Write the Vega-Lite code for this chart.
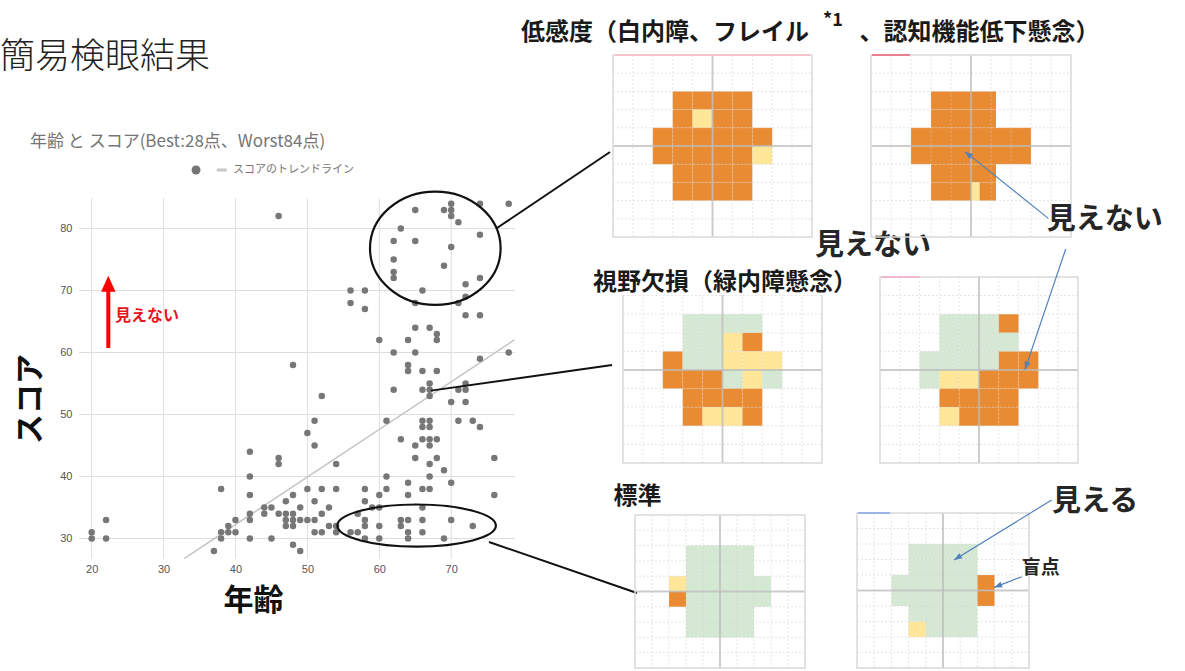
{
"$schema":"https://vega.github.io/schema/vega-lite/v6.json",
"padding":0,
"background":"white",
"config":{"view":{"stroke":null},"font":"Noto Sans CJK JP"},
"datasets":{
"pts":[{"a":20,"s":31},{"a":20,"s":30},{"a":22,"s":33},{"a":22,"s":30},
{"a":37,"s":28},{"a":38,"s":38},{"a":38,"s":31},{"a":38,"s":30},{"a":39,"s":32},{"a":39,"s":31},{"a":40,"s":33},{"a":40,"s":31},
{"a":42,"s":44},{"a":42,"s":40},{"a":42,"s":37},{"a":42,"s":34},{"a":42,"s":33},{"a":42,"s":30},
{"a":44,"s":35},{"a":44,"s":34},{"a":45,"s":35},{"a":45,"s":30},
{"a":46,"s":82},{"a":46,"s":43},{"a":46,"s":42},{"a":46,"s":34},
{"a":47,"s":36},{"a":47,"s":34},{"a":47,"s":33},{"a":47,"s":32},
{"a":48,"s":58},{"a":48,"s":37},{"a":48,"s":34},{"a":48,"s":33},{"a":48,"s":32},{"a":48,"s":29},
{"a":49,"s":35},{"a":49,"s":33},{"a":49,"s":28},
{"a":50,"s":47},{"a":50,"s":38},{"a":50,"s":33},
{"a":51,"s":49},{"a":51,"s":45},{"a":51,"s":36},{"a":51,"s":33},{"a":51,"s":31},
{"a":52,"s":53},{"a":52,"s":38},{"a":52,"s":34},{"a":52,"s":31},
{"a":53,"s":35},{"a":53,"s":32},
{"a":54,"s":42},{"a":54,"s":38},{"a":54,"s":32},{"a":54,"s":31},
{"a":56,"s":70},{"a":56,"s":68},{"a":56,"s":31},
{"a":57,"s":34},{"a":57,"s":31},
{"a":58,"s":70},{"a":58,"s":67},{"a":58,"s":38},{"a":58,"s":36},{"a":58,"s":33},{"a":58,"s":32},{"a":58,"s":30},
{"a":59,"s":35},
{"a":60,"s":62},{"a":60,"s":37},{"a":60,"s":35},{"a":60,"s":32},{"a":60,"s":30},
{"a":61,"s":49},{"a":61,"s":40},{"a":61,"s":38},
{"a":62,"s":78},{"a":62,"s":75},{"a":62,"s":73},{"a":62,"s":72},{"a":62,"s":60},{"a":62,"s":54},
{"a":63,"s":80},{"a":63,"s":46},{"a":63,"s":33},{"a":63,"s":32},
{"a":64,"s":62},{"a":64,"s":58},{"a":64,"s":57},{"a":64,"s":39},{"a":64,"s":37},{"a":64,"s":33},{"a":64,"s":31},{"a":64,"s":30},
{"a":65,"s":83},{"a":65,"s":78},{"a":65,"s":68},{"a":65,"s":64},{"a":65,"s":60},{"a":65,"s":45},{"a":65,"s":43},
{"a":66,"s":70},{"a":66,"s":57},{"a":66,"s":54},{"a":66,"s":49},{"a":66,"s":48},{"a":66,"s":46},{"a":66,"s":38},{"a":66,"s":35},{"a":66,"s":33},{"a":66,"s":31},
{"a":67,"s":64},{"a":67,"s":55},{"a":67,"s":54},{"a":67,"s":53},{"a":67,"s":49},{"a":67,"s":48},{"a":67,"s":46},{"a":67,"s":45},{"a":67,"s":42},{"a":67,"s":40},{"a":67,"s":38},
{"a":68,"s":63},{"a":68,"s":62},{"a":68,"s":57},{"a":68,"s":46},{"a":68,"s":43},
{"a":69,"s":83},{"a":69,"s":74},{"a":69,"s":41},{"a":69,"s":30},
{"a":70,"s":84},{"a":70,"s":83},{"a":70,"s":82},{"a":70,"s":77},{"a":70,"s":52},{"a":70,"s":39},{"a":70,"s":33},
{"a":71,"s":81},{"a":71,"s":68},{"a":71,"s":54},{"a":71,"s":49},
{"a":72,"s":71},{"a":72,"s":69},{"a":72,"s":66},{"a":72,"s":55},{"a":72,"s":54},{"a":72,"s":52},
{"a":73,"s":49},{"a":73,"s":32},
{"a":74,"s":84},{"a":74,"s":79},{"a":74,"s":72},{"a":74,"s":66},{"a":74,"s":59},{"a":74,"s":48},
{"a":76,"s":43},{"a":76,"s":37},
{"a":78,"s":84},{"a":78,"s":60}],
"trend":[{"a":32.86,"s":26.76},{"a":78.79,"s":62.03}],
"gx":[{"g":20},{"g":30},{"g":40},{"g":50},{"g":60},{"g":70}],
"gy":[{"h":30},{"h":40},{"h":50},{"h":60},{"h":70},{"h":80}],
"gv":[{"v":1},{"v":2},{"v":3},{"v":4},{"v":5},{"v":6},{"v":7},{"v":8},{"v":9}],
"cells":[
{"p":1,"c0":3,"c1":4,"r0":2,"r1":3,"s":"o"},{"p":1,"c0":4,"c1":5,"r0":2,"r1":3,"s":"o"},{"p":1,"c0":5,"c1":6,"r0":2,"r1":3,"s":"o"},{"p":1,"c0":6,"c1":7,"r0":2,"r1":3,"s":"o"},
{"p":1,"c0":3,"c1":4,"r0":3,"r1":4,"s":"o"},{"p":1,"c0":4,"c1":5,"r0":3,"r1":4,"s":"y"},{"p":1,"c0":5,"c1":6,"r0":3,"r1":4,"s":"o"},{"p":1,"c0":6,"c1":7,"r0":3,"r1":4,"s":"o"},
{"p":1,"c0":2,"c1":3,"r0":4,"r1":5,"s":"o"},{"p":1,"c0":3,"c1":4,"r0":4,"r1":5,"s":"o"},{"p":1,"c0":4,"c1":5,"r0":4,"r1":5,"s":"o"},{"p":1,"c0":5,"c1":6,"r0":4,"r1":5,"s":"o"},{"p":1,"c0":6,"c1":7,"r0":4,"r1":5,"s":"o"},{"p":1,"c0":7,"c1":8,"r0":4,"r1":5,"s":"o"},
{"p":1,"c0":2,"c1":3,"r0":5,"r1":6,"s":"o"},{"p":1,"c0":3,"c1":4,"r0":5,"r1":6,"s":"o"},{"p":1,"c0":4,"c1":5,"r0":5,"r1":6,"s":"o"},{"p":1,"c0":5,"c1":6,"r0":5,"r1":6,"s":"o"},{"p":1,"c0":6,"c1":7,"r0":5,"r1":6,"s":"o"},{"p":1,"c0":7,"c1":8,"r0":5,"r1":6,"s":"y"},
{"p":1,"c0":3,"c1":4,"r0":6,"r1":7,"s":"o"},{"p":1,"c0":4,"c1":5,"r0":6,"r1":7,"s":"o"},{"p":1,"c0":5,"c1":6,"r0":6,"r1":7,"s":"o"},{"p":1,"c0":6,"c1":7,"r0":6,"r1":7,"s":"o"},
{"p":1,"c0":3,"c1":4,"r0":7,"r1":8,"s":"o"},{"p":1,"c0":4,"c1":5,"r0":7,"r1":8,"s":"o"},{"p":1,"c0":5,"c1":6,"r0":7,"r1":8,"s":"o"},{"p":1,"c0":6,"c1":7,"r0":7,"r1":8,"s":"o"},
{"p":2,"c0":3,"c1":4,"r0":2,"r1":3,"s":"o"},{"p":2,"c0":4,"c1":5,"r0":2,"r1":3,"s":"o"},{"p":2,"c0":5,"c1":6,"r0":2,"r1":3,"s":"o"},{"p":2,"c0":6,"c1":6.25,"r0":2,"r1":3,"s":"o"},
{"p":2,"c0":3,"c1":4,"r0":3,"r1":4,"s":"o"},{"p":2,"c0":4,"c1":5,"r0":3,"r1":4,"s":"o"},{"p":2,"c0":5,"c1":6,"r0":3,"r1":4,"s":"o"},{"p":2,"c0":6,"c1":6.25,"r0":3,"r1":4,"s":"o"},
{"p":2,"c0":2,"c1":3,"r0":4,"r1":5,"s":"o"},{"p":2,"c0":3,"c1":4,"r0":4,"r1":5,"s":"o"},{"p":2,"c0":4,"c1":5,"r0":4,"r1":5,"s":"o"},{"p":2,"c0":5,"c1":6,"r0":4,"r1":5,"s":"o"},{"p":2,"c0":6,"c1":7,"r0":4,"r1":5,"s":"o"},{"p":2,"c0":7,"c1":8,"r0":4,"r1":5,"s":"o"},
{"p":2,"c0":2,"c1":3,"r0":5,"r1":6,"s":"o"},{"p":2,"c0":3,"c1":4,"r0":5,"r1":6,"s":"o"},{"p":2,"c0":4,"c1":5,"r0":5,"r1":6,"s":"o"},{"p":2,"c0":5,"c1":6,"r0":5,"r1":6,"s":"o"},{"p":2,"c0":6,"c1":7,"r0":5,"r1":6,"s":"o"},{"p":2,"c0":7,"c1":8,"r0":5,"r1":6,"s":"o"},
{"p":2,"c0":3,"c1":4,"r0":6,"r1":7,"s":"o"},{"p":2,"c0":4,"c1":5,"r0":6,"r1":7,"s":"o"},{"p":2,"c0":5,"c1":6,"r0":6,"r1":7,"s":"o"},{"p":2,"c0":6,"c1":6.25,"r0":6,"r1":7,"s":"o"},
{"p":2,"c0":3,"c1":4,"r0":7,"r1":8,"s":"o"},{"p":2,"c0":4,"c1":5,"r0":7,"r1":8,"s":"o"},{"p":2,"c0":5,"c1":5.43,"r0":7,"r1":8,"s":"y"},{"p":2,"c0":5.43,"c1":6,"r0":7,"r1":8,"s":"o"},{"p":2,"c0":6,"c1":6.25,"r0":7,"r1":8,"s":"o"},
{"p":3,"c0":3,"c1":4,"r0":2,"r1":3,"s":"g"},{"p":3,"c0":4,"c1":5,"r0":2,"r1":3,"s":"g"},{"p":3,"c0":5,"c1":6,"r0":2,"r1":3,"s":"g"},{"p":3,"c0":6,"c1":7,"r0":2,"r1":3,"s":"g"},
{"p":3,"c0":3,"c1":4,"r0":3,"r1":4,"s":"g"},{"p":3,"c0":4,"c1":5,"r0":3,"r1":4,"s":"g"},{"p":3,"c0":5,"c1":6,"r0":3,"r1":4,"s":"y"},{"p":3,"c0":6,"c1":7,"r0":3,"r1":4,"s":"o"},
{"p":3,"c0":2,"c1":3,"r0":4,"r1":5,"s":"o"},{"p":3,"c0":3,"c1":4,"r0":4,"r1":5,"s":"g"},{"p":3,"c0":4,"c1":5,"r0":4,"r1":5,"s":"g"},{"p":3,"c0":5,"c1":6,"r0":4,"r1":5,"s":"y"},{"p":3,"c0":6,"c1":7,"r0":4,"r1":5,"s":"y"},{"p":3,"c0":7,"c1":8,"r0":4,"r1":5,"s":"y"},
{"p":3,"c0":2,"c1":3,"r0":5,"r1":6,"s":"o"},{"p":3,"c0":3,"c1":4,"r0":5,"r1":6,"s":"o"},{"p":3,"c0":4,"c1":5,"r0":5,"r1":6,"s":"o"},{"p":3,"c0":5,"c1":6,"r0":5,"r1":6,"s":"g"},{"p":3,"c0":6,"c1":7,"r0":5,"r1":6,"s":"y"},{"p":3,"c0":7,"c1":8,"r0":5,"r1":6,"s":"g"},
{"p":3,"c0":3,"c1":4,"r0":6,"r1":7,"s":"o"},{"p":3,"c0":4,"c1":5,"r0":6,"r1":7,"s":"o"},{"p":3,"c0":5,"c1":6,"r0":6,"r1":7,"s":"o"},{"p":3,"c0":6,"c1":7,"r0":6,"r1":7,"s":"o"},
{"p":3,"c0":3,"c1":4,"r0":7,"r1":8,"s":"o"},{"p":3,"c0":4,"c1":5,"r0":7,"r1":8,"s":"y"},{"p":3,"c0":5,"c1":6,"r0":7,"r1":8,"s":"y"},{"p":3,"c0":6,"c1":7,"r0":7,"r1":8,"s":"o"},
{"p":4,"c0":3,"c1":4,"r0":2,"r1":3,"s":"g"},{"p":4,"c0":4,"c1":5,"r0":2,"r1":3,"s":"g"},{"p":4,"c0":5,"c1":6,"r0":2,"r1":3,"s":"g"},{"p":4,"c0":6,"c1":7,"r0":2,"r1":3,"s":"o"},
{"p":4,"c0":3,"c1":4,"r0":3,"r1":4,"s":"g"},{"p":4,"c0":4,"c1":5,"r0":3,"r1":4,"s":"g"},{"p":4,"c0":5,"c1":6,"r0":3,"r1":4,"s":"g"},{"p":4,"c0":6,"c1":7,"r0":3,"r1":4,"s":"g"},
{"p":4,"c0":2,"c1":3,"r0":4,"r1":5,"s":"g"},{"p":4,"c0":3,"c1":4,"r0":4,"r1":5,"s":"g"},{"p":4,"c0":4,"c1":5,"r0":4,"r1":5,"s":"g"},{"p":4,"c0":5,"c1":6,"r0":4,"r1":5,"s":"g"},{"p":4,"c0":6,"c1":7,"r0":4,"r1":5,"s":"o"},{"p":4,"c0":7,"c1":8,"r0":4,"r1":5,"s":"o"},
{"p":4,"c0":2,"c1":3,"r0":5,"r1":6,"s":"g"},{"p":4,"c0":3,"c1":4,"r0":5,"r1":6,"s":"y"},{"p":4,"c0":4,"c1":5,"r0":5,"r1":6,"s":"y"},{"p":4,"c0":5,"c1":6,"r0":5,"r1":6,"s":"o"},{"p":4,"c0":6,"c1":7,"r0":5,"r1":6,"s":"o"},{"p":4,"c0":7,"c1":8,"r0":5,"r1":6,"s":"o"},
{"p":4,"c0":3,"c1":4,"r0":6,"r1":7,"s":"o"},{"p":4,"c0":4,"c1":5,"r0":6,"r1":7,"s":"o"},{"p":4,"c0":5,"c1":6,"r0":6,"r1":7,"s":"o"},{"p":4,"c0":6,"c1":7,"r0":6,"r1":7,"s":"o"},
{"p":4,"c0":3,"c1":4,"r0":7,"r1":8,"s":"y"},{"p":4,"c0":4,"c1":5,"r0":7,"r1":8,"s":"o"},{"p":4,"c0":5,"c1":6,"r0":7,"r1":8,"s":"o"},{"p":4,"c0":6,"c1":7,"r0":7,"r1":8,"s":"o"},
{"p":5,"c0":3,"c1":4,"r0":2,"r1":3,"s":"g"},{"p":5,"c0":4,"c1":5,"r0":2,"r1":3,"s":"g"},{"p":5,"c0":5,"c1":6,"r0":2,"r1":3,"s":"g"},{"p":5,"c0":6,"c1":7,"r0":2,"r1":3,"s":"g"},
{"p":5,"c0":3,"c1":4,"r0":3,"r1":4,"s":"g"},{"p":5,"c0":4,"c1":5,"r0":3,"r1":4,"s":"g"},{"p":5,"c0":5,"c1":6,"r0":3,"r1":4,"s":"g"},{"p":5,"c0":6,"c1":7,"r0":3,"r1":4,"s":"g"},
{"p":5,"c0":2,"c1":3,"r0":4,"r1":5,"s":"y"},{"p":5,"c0":3,"c1":4,"r0":4,"r1":5,"s":"g"},{"p":5,"c0":4,"c1":5,"r0":4,"r1":5,"s":"g"},{"p":5,"c0":5,"c1":6,"r0":4,"r1":5,"s":"g"},{"p":5,"c0":6,"c1":7,"r0":4,"r1":5,"s":"g"},{"p":5,"c0":7,"c1":8,"r0":4,"r1":5,"s":"g"},
{"p":5,"c0":2,"c1":3,"r0":5,"r1":6,"s":"o"},{"p":5,"c0":3,"c1":4,"r0":5,"r1":6,"s":"g"},{"p":5,"c0":4,"c1":5,"r0":5,"r1":6,"s":"g"},{"p":5,"c0":5,"c1":6,"r0":5,"r1":6,"s":"g"},{"p":5,"c0":6,"c1":7,"r0":5,"r1":6,"s":"g"},{"p":5,"c0":7,"c1":8,"r0":5,"r1":6,"s":"g"},
{"p":5,"c0":3,"c1":4,"r0":6,"r1":7,"s":"g"},{"p":5,"c0":4,"c1":5,"r0":6,"r1":7,"s":"g"},{"p":5,"c0":5,"c1":6,"r0":6,"r1":7,"s":"g"},{"p":5,"c0":6,"c1":7,"r0":6,"r1":7,"s":"g"},
{"p":5,"c0":3,"c1":4,"r0":7,"r1":8,"s":"g"},{"p":5,"c0":4,"c1":5,"r0":7,"r1":8,"s":"g"},{"p":5,"c0":5,"c1":6,"r0":7,"r1":8,"s":"g"},{"p":5,"c0":6,"c1":7,"r0":7,"r1":8,"s":"g"},
{"p":6,"c0":3,"c1":4,"r0":2,"r1":3,"s":"g"},{"p":6,"c0":4,"c1":5,"r0":2,"r1":3,"s":"g"},{"p":6,"c0":5,"c1":6,"r0":2,"r1":3,"s":"g"},{"p":6,"c0":6,"c1":7,"r0":2,"r1":3,"s":"g"},
{"p":6,"c0":3,"c1":4,"r0":3,"r1":4,"s":"g"},{"p":6,"c0":4,"c1":5,"r0":3,"r1":4,"s":"g"},{"p":6,"c0":5,"c1":6,"r0":3,"r1":4,"s":"g"},{"p":6,"c0":6,"c1":7,"r0":3,"r1":4,"s":"g"},
{"p":6,"c0":2,"c1":3,"r0":4,"r1":5,"s":"g"},{"p":6,"c0":3,"c1":4,"r0":4,"r1":5,"s":"g"},{"p":6,"c0":4,"c1":5,"r0":4,"r1":5,"s":"g"},{"p":6,"c0":5,"c1":6,"r0":4,"r1":5,"s":"g"},{"p":6,"c0":6,"c1":7,"r0":4,"r1":5,"s":"g"},{"p":6,"c0":7,"c1":8,"r0":4,"r1":5,"s":"o"},
{"p":6,"c0":2,"c1":3,"r0":5,"r1":6,"s":"g"},{"p":6,"c0":3,"c1":4,"r0":5,"r1":6,"s":"g"},{"p":6,"c0":4,"c1":5,"r0":5,"r1":6,"s":"g"},{"p":6,"c0":5,"c1":6,"r0":5,"r1":6,"s":"g"},{"p":6,"c0":6,"c1":7,"r0":5,"r1":6,"s":"g"},{"p":6,"c0":7,"c1":8,"r0":5,"r1":6,"s":"o"},
{"p":6,"c0":3,"c1":4,"r0":6,"r1":7,"s":"g"},{"p":6,"c0":4,"c1":5,"r0":6,"r1":7,"s":"g"},{"p":6,"c0":5,"c1":6,"r0":6,"r1":7,"s":"g"},{"p":6,"c0":6,"c1":7,"r0":6,"r1":7,"s":"g"},
{"p":6,"c0":3,"c1":4,"r0":7,"r1":8,"s":"y"},{"p":6,"c0":4,"c1":5,"r0":7,"r1":8,"s":"g"},{"p":6,"c0":5,"c1":6,"r0":7,"r1":8,"s":"g"},{"p":6,"c0":6,"c1":7,"r0":7,"r1":8,"s":"g"}
]},
"hconcat":[
{"width":515,"height":559,
"layer":[
{"data":{"name":"gy"},"mark":{"type":"rule","color":"#dedede","strokeWidth":1},"encoding":{"y":{"field":"h","type":"quantitative","scale":{"domain":[26.694,116.855],"nice":false,"zero":false}},"x":{"datum":18.234},"x2":{"datum":78.874}}},
{"data":{"name":"gx"},"mark":{"type":"rule","color":"#dedede","strokeWidth":1},"encoding":{"x":{"field":"g","type":"quantitative","scale":{"domain":[7.246,78.874],"nice":false,"zero":false}},"y":{"datum":26.694},"y2":{"datum":84.92}}},
{"data":{"name":"trend"},"mark":{"type":"line","color":"#c4c4c4","strokeWidth":1.5},"encoding":{"x":{"field":"a","type":"quantitative"},"y":{"field":"s","type":"quantitative"}}},
{"data":{"name":"pts"},"mark":{"type":"point","filled":true,"color":"#777777","opacity":1,"size":42},"encoding":{
"x":{"field":"a","type":"quantitative","axis":{"values":[20,30,40,50,60,70],"title":null,"grid":false,"domain":false,"ticks":false,"tickSize":0,"labelPadding":4,"labelFontSize":11,"labelColor":"#555555","labelFont":"Liberation Sans"}},
"y":{"field":"s","type":"quantitative","axis":{"values":[30,40,50,60,70,80],"title":null,"grid":false,"domain":false,"ticks":false,"tickSize":0,"labelPadding":7,"offset":-79,"labelFontSize":11,"labelColor":"#555555","labelFont":"Liberation Sans"}}}},
{"data":{"values":[{}]},"mark":{"type":"point","shape":"M-1,0A1,0.868,0,1,1,1,0A1,0.868,0,1,1,-1,0Z","size":17056,"filled":false,"color":"#111111","strokeWidth":2.2,"opacity":1,"clip":false},"encoding":{"x":{"datum":67.79},"y":{"datum":76.81}}},
{"data":{"values":[{}]},"mark":{"type":"point","shape":"M-1,0A1,0.266,0,1,1,1,0A1,0.266,0,1,1,-1,0Z","size":25154,"filled":false,"color":"#111111","strokeWidth":2.2,"opacity":1,"clip":false},"encoding":{"x":{"datum":65.19},"y":{"datum":32.08}}},
{"data":{"values":[{}]},"mark":{"type":"rule","color":"#111111","strokeWidth":2,"clip":false},"encoding":{"x":{"datum":76.37},"y":{"datum":80.08},"x2":{"datum":92.09},"y2":{"datum":92.34}}},
{"data":{"values":[{}]},"mark":{"type":"rule","color":"#111111","strokeWidth":2,"clip":false},"encoding":{"x":{"datum":67.19},"y":{"datum":53.85},"x2":{"datum":92.37},"y2":{"datum":58.0}}},
{"data":{"values":[{}]},"mark":{"type":"rule","color":"#111111","strokeWidth":2,"clip":false},"encoding":{"x":{"datum":75.26},"y":{"datum":29.44},"x2":{"datum":95.84},"y2":{"datum":21.2}}},
{"data":{"values":[{}]},"mark":{"type":"rule","color":"#ff0000","strokeWidth":4},"encoding":{"x":{"datum":22.31},"y":{"datum":60.73},"y2":{"datum":70.6}}},
{"data":{"values":[{}]},"mark":{"type":"point","shape":"M0,0L0.9,2L-0.9,2Z","size":256,"filled":true,"color":"#ff0000","opacity":1},"encoding":{"x":{"datum":22.31},"y":{"datum":72.39}}},
{"data":{"values":[{}]},"mark":{"type":"text","text":"見えない","fontSize":16,"fontWeight":"bold","color":"#e8141c","align":"left","baseline":"middle"},"encoding":{"x":{"datum":23.25},"y":{"datum":65.9}}},
{"data":{"values":[{}]},"mark":{"type":"text","text":"簡易検眼結果","fontSize":35,"fontWeight":300,"color":"#222222","align":"left","baseline":"middle"},"encoding":{"x":{"datum":7.246},"y":{"datum":107.66}}},
{"data":{"values":[{}]},"mark":{"type":"text","text":"年齢 と スコア(Best:28点、Worst84点)","fontSize":17,"color":"#757575","align":"left","baseline":"middle"},"encoding":{"x":{"datum":11.42},"y":{"datum":93.95}}},
{"data":{"values":[{}]},"mark":{"type":"point","filled":true,"color":"#757575","opacity":1,"size":80},"encoding":{"x":{"datum":34.51},"y":{"datum":89.44}}},
{"data":{"values":[{}]},"mark":{"type":"rule","color":"#c8c8c8","strokeWidth":3},"encoding":{"x":{"datum":37.39},"x2":{"datum":38.78},"y":{"datum":89.44}}},
{"data":{"values":[{}]},"mark":{"type":"text","text":"スコアのトレンドライン","fontSize":11,"color":"#757575","align":"left","baseline":"middle"},"encoding":{"x":{"datum":39.65},"y":{"datum":89.44}}},
{"data":{"values":[{}]},"mark":{"type":"text","text":"スコア","fontSize":30,"fontWeight":"bold","color":"#111111","align":"center","baseline":"middle","angle":270},"encoding":{"x":{"datum":11.6},"y":{"datum":52.5}}},
{"data":{"values":[{}]},"mark":{"type":"text","text":"年齢","fontSize":30,"fontWeight":"bold","color":"#111111","align":"center","baseline":"middle","clip":false},"encoding":{"x":{"datum":42.5},"y":{"datum":20.0}}}
]},
{"concat":[
{"width":199,"height":237,"layer":[
{"data":{"name":"cells"},"transform":[{"filter":"datum.p==1"}],"mark":{"type":"rect"},"encoding":{"x":{"field":"c0","type":"quantitative","scale":{"domain":[0,10],"nice":false,"zero":false},"axis":null},"x2":{"field":"c1"},"y":{"field":"r0","type":"quantitative","scale":{"domain":[-3.022,10],"nice":false,"zero":false,"reverse":true},"axis":null},"y2":{"field":"r1"},"color":{"field":"s","type":"nominal","scale":{"domain":["o","y","g"],"range":["#E88B33","#FFE699","#D5E8D4"]},"legend":null}}},
{"data":{"name":"gv"},"mark":{"type":"rule","color":"#cfcfcf","strokeWidth":1,"strokeDash":[2,2],"opacity":0.55},"encoding":{"x":{"field":"v","type":"quantitative","axis":null},"y":{"datum":0,"axis":null},"y2":{"datum":10}}},
{"data":{"name":"gv"},"mark":{"type":"rule","color":"#cfcfcf","strokeWidth":1,"strokeDash":[2,2],"opacity":0.55},"encoding":{"y":{"field":"v","type":"quantitative","axis":null},"x":{"datum":0,"axis":null},"x2":{"datum":10}}},
{"data":{"values":[{}]},"mark":{"type":"rule","color":"#bbbbbb","strokeWidth":2,"opacity":0.7},"encoding":{"x":{"datum":5,"axis":null},"y":{"datum":0,"axis":null},"y2":{"datum":10}}},
{"data":{"values":[{}]},"mark":{"type":"rule","color":"#bbbbbb","strokeWidth":2,"opacity":0.7},"encoding":{"y":{"datum":5,"axis":null},"x":{"datum":0,"axis":null},"x2":{"datum":10}}},
{"data":{"values":[{}]},"mark":{"type":"rect","filled":false,"color":"#d9d9d9","strokeWidth":1.5},"encoding":{"x":{"datum":0,"axis":null},"x2":{"datum":10},"y":{"datum":0,"axis":null},"y2":{"datum":10}}},
{"data":{"values":[{}]},"mark":{"type":"rule","color":"#f3c3cb","strokeWidth":2},"encoding":{"x":{"datum":0.1,"axis":null},"x2":{"datum":9.9},"y":{"datum":0,"axis":null}}},
{"data":{"values":[{}]},"mark":{"type":"text","text":"低感度（白内障、フレイル","fontSize":24,"fontWeight":"bold","color":"#1a1a1a","align":"center","baseline":"middle","clip":false},"encoding":{"x":{"datum":2.613,"axis":null},"y":{"datum":-1.209,"axis":null}}},
{"data":{"values":[{}]},"mark":{"type":"text","text":"*1","fontSize":18,"fontWeight":"bold","color":"#1a1a1a","align":"left","baseline":"middle","clip":false},"encoding":{"x":{"datum":10.553,"axis":null},"y":{"datum":-1.895,"axis":null}}},
{"data":{"values":[{}]},"mark":{"type":"text","text":"、認知機能低下懸念）","fontSize":24,"fontWeight":"bold","color":"#1a1a1a","align":"center","baseline":"middle","clip":false},"encoding":{"x":{"datum":18.417,"axis":null},"y":{"datum":-1.209,"axis":null}}},
{"data":{"values":[{}]},"mark":{"type":"text","text":"見えない","fontSize":29,"fontWeight":"bold","color":"#262626","align":"left","baseline":"middle","clip":false},"encoding":{"x":{"datum":10.151,"axis":null},"y":{"datum":10.484,"axis":null}}}
]},
{"width":214,"height":237,"layer":[
{"data":{"name":"cells"},"transform":[{"filter":"datum.p==2"}],"mark":{"type":"rect"},"encoding":{"x":{"field":"c0","type":"quantitative","scale":{"domain":[-0.7,10],"nice":false,"zero":false},"axis":null},"x2":{"field":"c1"},"y":{"field":"r0","type":"quantitative","scale":{"domain":[-3.022,10],"nice":false,"zero":false,"reverse":true},"axis":null},"y2":{"field":"r1"},"color":{"field":"s","type":"nominal","scale":{"domain":["o","y","g"],"range":["#E88B33","#FFE699","#D5E8D4"]},"legend":null}}},
{"data":{"name":"gv"},"mark":{"type":"rule","color":"#cfcfcf","strokeWidth":1,"strokeDash":[2,2],"opacity":0.55},"encoding":{"x":{"field":"v","type":"quantitative","axis":null},"y":{"datum":0,"axis":null},"y2":{"datum":10}}},
{"data":{"name":"gv"},"mark":{"type":"rule","color":"#cfcfcf","strokeWidth":1,"strokeDash":[2,2],"opacity":0.55},"encoding":{"y":{"field":"v","type":"quantitative","axis":null},"x":{"datum":0,"axis":null},"x2":{"datum":10}}},
{"data":{"values":[{}]},"mark":{"type":"rule","color":"#bbbbbb","strokeWidth":2,"opacity":0.7},"encoding":{"x":{"datum":5,"axis":null},"y":{"datum":0,"axis":null},"y2":{"datum":10}}},
{"data":{"values":[{}]},"mark":{"type":"rule","color":"#bbbbbb","strokeWidth":2,"opacity":0.7},"encoding":{"y":{"datum":5,"axis":null},"x":{"datum":0,"axis":null},"x2":{"datum":10}}},
{"data":{"values":[{}]},"mark":{"type":"rect","filled":false,"color":"#d9d9d9","strokeWidth":1.5},"encoding":{"x":{"datum":0,"axis":null},"x2":{"datum":10},"y":{"datum":0,"axis":null},"y2":{"datum":10}}},
{"data":{"values":[{}]},"mark":{"type":"rule","color":"#e8808f","strokeWidth":2},"encoding":{"x":{"datum":0.05,"axis":null},"x2":{"datum":1.95},"y":{"datum":0,"axis":null}}},
{"data":{"values":[{}]},"mark":{"type":"text","text":"見えない","fontSize":29,"fontWeight":"bold","color":"#262626","align":"left","baseline":"middle","clip":false},"encoding":{"x":{"datum":8.785,"axis":null},"y":{"datum":9.066,"axis":null}}},
{"data":{"values":[{}]},"mark":{"type":"rule","color":"#4f81bd","strokeWidth":1.2,"clip":false},"encoding":{"x":{"datum":8.865,"axis":null},"y":{"datum":8.975,"axis":null},"x2":{"datum":4.7},"y2":{"datum":5.31}}},
{"data":{"values":[{}]},"mark":{"type":"point","shape":"M0,0L0.75,2L-0.75,2Z","size":64,"filled":true,"color":"#4f81bd","opacity":1,"angle":308.6,"clip":false},"encoding":{"x":{"datum":4.7,"axis":null},"y":{"datum":5.31,"axis":null}}}
]},
{"width":209,"height":226,"layer":[
{"data":{"name":"cells"},"transform":[{"filter":"datum.p==3"}],"mark":{"type":"rect"},"encoding":{"x":{"field":"c0","type":"quantitative","scale":{"domain":[-0.5025,10],"nice":false,"zero":false},"axis":null},"x2":{"field":"c1"},"y":{"field":"r0","type":"quantitative","scale":{"domain":[-2.1505,10],"nice":false,"zero":false,"reverse":true},"axis":null},"y2":{"field":"r1"},"color":{"field":"s","type":"nominal","scale":{"domain":["o","y","g"],"range":["#E88B33","#FFE699","#D5E8D4"]},"legend":null}}},
{"data":{"name":"gv"},"mark":{"type":"rule","color":"#cfcfcf","strokeWidth":1,"strokeDash":[2,2],"opacity":0.55},"encoding":{"x":{"field":"v","type":"quantitative","axis":null},"y":{"datum":0,"axis":null},"y2":{"datum":10}}},
{"data":{"name":"gv"},"mark":{"type":"rule","color":"#cfcfcf","strokeWidth":1,"strokeDash":[2,2],"opacity":0.55},"encoding":{"y":{"field":"v","type":"quantitative","axis":null},"x":{"datum":0,"axis":null},"x2":{"datum":10}}},
{"data":{"values":[{}]},"mark":{"type":"rule","color":"#bbbbbb","strokeWidth":2,"opacity":0.7},"encoding":{"x":{"datum":5,"axis":null},"y":{"datum":0,"axis":null},"y2":{"datum":10}}},
{"data":{"values":[{}]},"mark":{"type":"rule","color":"#bbbbbb","strokeWidth":2,"opacity":0.7},"encoding":{"y":{"datum":5,"axis":null},"x":{"datum":0,"axis":null},"x2":{"datum":10}}},
{"data":{"values":[{}]},"mark":{"type":"rect","filled":false,"color":"#d9d9d9","strokeWidth":1.5},"encoding":{"x":{"datum":0,"axis":null},"x2":{"datum":10},"y":{"datum":0,"axis":null},"y2":{"datum":10}}},
{"data":{"values":[{}]},"mark":{"type":"rect","color":"#ffffff","clip":false},"encoding":{"x":{"datum":-1.6,"axis":null},"x2":{"datum":11.8},"y":{"datum":-0.45,"axis":null},"y2":{"datum":0.97}}},
{"data":{"values":[{}]},"mark":{"type":"text","text":"視野欠損（緑内障懸念）","fontSize":24,"fontWeight":"bold","color":"#1a1a1a","align":"center","baseline":"middle","clip":false},"encoding":{"x":{"datum":5.126,"axis":null},"y":{"datum":0.323,"axis":null}}}
]},
{"width":221,"height":226,"layer":[
{"data":{"name":"cells"},"transform":[{"filter":"datum.p==4"}],"mark":{"type":"rect"},"encoding":{"x":{"field":"c0","type":"quantitative","scale":{"domain":[-1.1616,10],"nice":false,"zero":false},"axis":null},"x2":{"field":"c1"},"y":{"field":"r0","type":"quantitative","scale":{"domain":[-2.1505,10],"nice":false,"zero":false,"reverse":true},"axis":null},"y2":{"field":"r1"},"color":{"field":"s","type":"nominal","scale":{"domain":["o","y","g"],"range":["#E88B33","#FFE699","#D5E8D4"]},"legend":null}}},
{"data":{"name":"gv"},"mark":{"type":"rule","color":"#cfcfcf","strokeWidth":1,"strokeDash":[2,2],"opacity":0.55},"encoding":{"x":{"field":"v","type":"quantitative","axis":null},"y":{"datum":0,"axis":null},"y2":{"datum":10}}},
{"data":{"name":"gv"},"mark":{"type":"rule","color":"#cfcfcf","strokeWidth":1,"strokeDash":[2,2],"opacity":0.55},"encoding":{"y":{"field":"v","type":"quantitative","axis":null},"x":{"datum":0,"axis":null},"x2":{"datum":10}}},
{"data":{"values":[{}]},"mark":{"type":"rule","color":"#bbbbbb","strokeWidth":2,"opacity":0.7},"encoding":{"x":{"datum":5,"axis":null},"y":{"datum":0,"axis":null},"y2":{"datum":10}}},
{"data":{"values":[{}]},"mark":{"type":"rule","color":"#bbbbbb","strokeWidth":2,"opacity":0.7},"encoding":{"y":{"datum":5,"axis":null},"x":{"datum":0,"axis":null},"x2":{"datum":10}}},
{"data":{"values":[{}]},"mark":{"type":"rect","filled":false,"color":"#d9d9d9","strokeWidth":1.5},"encoding":{"x":{"datum":0,"axis":null},"x2":{"datum":10},"y":{"datum":0,"axis":null},"y2":{"datum":10}}},
{"data":{"values":[{}]},"mark":{"type":"rule","color":"#f0b8d0","strokeWidth":2},"encoding":{"x":{"datum":0.05,"axis":null},"x2":{"datum":2.0},"y":{"datum":0,"axis":null}}},
{"data":{"values":[{}]},"mark":{"type":"rule","color":"#4f81bd","strokeWidth":1.2,"clip":false},"encoding":{"x":{"datum":9.38,"axis":null},"y":{"datum":-1.505,"axis":null},"x2":{"datum":7.32},"y2":{"datum":4.98}}},
{"data":{"values":[{}]},"mark":{"type":"point","shape":"M0,0L0.75,2L-0.75,2Z","size":64,"filled":true,"color":"#4f81bd","opacity":1,"angle":198.6,"clip":false},"encoding":{"x":{"datum":7.32,"axis":null},"y":{"datum":4.98,"axis":null}}}
]},
{"width":192,"height":205,"layer":[
{"data":{"name":"cells"},"transform":[{"filter":"datum.p==5"}],"mark":{"type":"rect"},"encoding":{"x":{"field":"c0","type":"quantitative","scale":{"domain":[-1.2941,10],"nice":false,"zero":false},"axis":null},"x2":{"field":"c1"},"y":{"field":"r0","type":"quantitative","scale":{"domain":[-3.3987,10],"nice":false,"zero":false,"reverse":true},"axis":null},"y2":{"field":"r1"},"color":{"field":"s","type":"nominal","scale":{"domain":["o","y","g"],"range":["#E88B33","#FFE699","#D5E8D4"]},"legend":null}}},
{"data":{"name":"gv"},"mark":{"type":"rule","color":"#cfcfcf","strokeWidth":1,"strokeDash":[2,2],"opacity":0.55},"encoding":{"x":{"field":"v","type":"quantitative","axis":null},"y":{"datum":0,"axis":null},"y2":{"datum":10}}},
{"data":{"name":"gv"},"mark":{"type":"rule","color":"#cfcfcf","strokeWidth":1,"strokeDash":[2,2],"opacity":0.55},"encoding":{"y":{"field":"v","type":"quantitative","axis":null},"x":{"datum":0,"axis":null},"x2":{"datum":10}}},
{"data":{"values":[{}]},"mark":{"type":"rule","color":"#bbbbbb","strokeWidth":2,"opacity":0.7},"encoding":{"x":{"datum":5,"axis":null},"y":{"datum":0,"axis":null},"y2":{"datum":10}}},
{"data":{"values":[{}]},"mark":{"type":"rule","color":"#bbbbbb","strokeWidth":2,"opacity":0.7},"encoding":{"y":{"datum":5,"axis":null},"x":{"datum":0,"axis":null},"x2":{"datum":10}}},
{"data":{"values":[{}]},"mark":{"type":"rect","filled":false,"color":"#d9d9d9","strokeWidth":1.5},"encoding":{"x":{"datum":0,"axis":null},"x2":{"datum":10},"y":{"datum":0,"axis":null},"y2":{"datum":10}}},
{"data":{"values":[{}]},"mark":{"type":"text","text":"標準","fontSize":24,"fontWeight":"bold","color":"#1a1a1a","align":"center","baseline":"middle","clip":false},"encoding":{"x":{"datum":0.147,"axis":null},"y":{"datum":-1.176,"axis":null}}}
]},
{"width":172,"height":205,"layer":[
{"data":{"name":"cells"},"transform":[{"filter":"datum.p==6"}],"mark":{"type":"rect"},"encoding":{"x":{"field":"c0","type":"quantitative","scale":{"domain":[0,10],"nice":false,"zero":false},"axis":null},"x2":{"field":"c1"},"y":{"field":"r0","type":"quantitative","scale":{"domain":[-3.2258,10],"nice":false,"zero":false,"reverse":true},"axis":null},"y2":{"field":"r1"},"color":{"field":"s","type":"nominal","scale":{"domain":["o","y","g"],"range":["#E88B33","#FFE699","#D5E8D4"]},"legend":null}}},
{"data":{"name":"gv"},"mark":{"type":"rule","color":"#cfcfcf","strokeWidth":1,"strokeDash":[2,2],"opacity":0.55},"encoding":{"x":{"field":"v","type":"quantitative","axis":null},"y":{"datum":0,"axis":null},"y2":{"datum":10}}},
{"data":{"name":"gv"},"mark":{"type":"rule","color":"#cfcfcf","strokeWidth":1,"strokeDash":[2,2],"opacity":0.55},"encoding":{"y":{"field":"v","type":"quantitative","axis":null},"x":{"datum":0,"axis":null},"x2":{"datum":10}}},
{"data":{"values":[{}]},"mark":{"type":"rule","color":"#bbbbbb","strokeWidth":2,"opacity":0.7},"encoding":{"x":{"datum":5,"axis":null},"y":{"datum":0,"axis":null},"y2":{"datum":10}}},
{"data":{"values":[{}]},"mark":{"type":"rule","color":"#bbbbbb","strokeWidth":2,"opacity":0.7},"encoding":{"y":{"datum":5,"axis":null},"x":{"datum":0,"axis":null},"x2":{"datum":10}}},
{"data":{"values":[{}]},"mark":{"type":"rect","filled":false,"color":"#d9d9d9","strokeWidth":1.5},"encoding":{"x":{"datum":0,"axis":null},"x2":{"datum":10},"y":{"datum":0,"axis":null},"y2":{"datum":10}}},
{"data":{"values":[{}]},"mark":{"type":"rule","color":"#9fb4e6","strokeWidth":2},"encoding":{"x":{"datum":0.05,"axis":null},"x2":{"datum":1.92},"y":{"datum":0,"axis":null}}},
{"data":{"values":[{}]},"mark":{"type":"text","text":"見える","fontSize":29,"fontWeight":"bold","color":"#262626","align":"left","baseline":"middle","clip":false},"encoding":{"x":{"datum":11.337,"axis":null},"y":{"datum":-0.71,"axis":null}}},
{"data":{"values":[{}]},"mark":{"type":"rule","color":"#4f81bd","strokeWidth":1.2,"clip":false},"encoding":{"x":{"datum":11.32,"axis":null},"y":{"datum":-0.84,"axis":null},"x2":{"datum":5.64},"y2":{"datum":3.03}}},
{"data":{"values":[{}]},"mark":{"type":"point","shape":"M0,0L0.75,2L-0.75,2Z","size":64,"filled":true,"color":"#4f81bd","opacity":1,"angle":238.4,"clip":false},"encoding":{"x":{"datum":5.64,"axis":null},"y":{"datum":3.03,"axis":null}}},
{"data":{"values":[{}]},"mark":{"type":"text","text":"盲点","fontSize":19,"fontWeight":"bold","color":"#262626","align":"left","baseline":"middle","clip":false},"encoding":{"x":{"datum":9.576,"axis":null},"y":{"datum":3.548,"axis":null}}},
{"data":{"values":[{}]},"mark":{"type":"rule","color":"#4f81bd","strokeWidth":1.2,"clip":false},"encoding":{"x":{"datum":9.58,"axis":null},"y":{"datum":4.11,"axis":null},"x2":{"datum":7.97},"y2":{"datum":4.8}}},
{"data":{"values":[{}]},"mark":{"type":"point","shape":"M0,0L0.75,2L-0.75,2Z","size":64,"filled":true,"color":"#4f81bd","opacity":1,"angle":249.1,"clip":false},"encoding":{"x":{"datum":7.97,"axis":null},"y":{"datum":4.8,"axis":null}}}
]}
],"columns":2,"spacing":{"row":0,"column":35},"bounds":"flush"}
],
"spacing":98,
"bounds":"flush"
}
